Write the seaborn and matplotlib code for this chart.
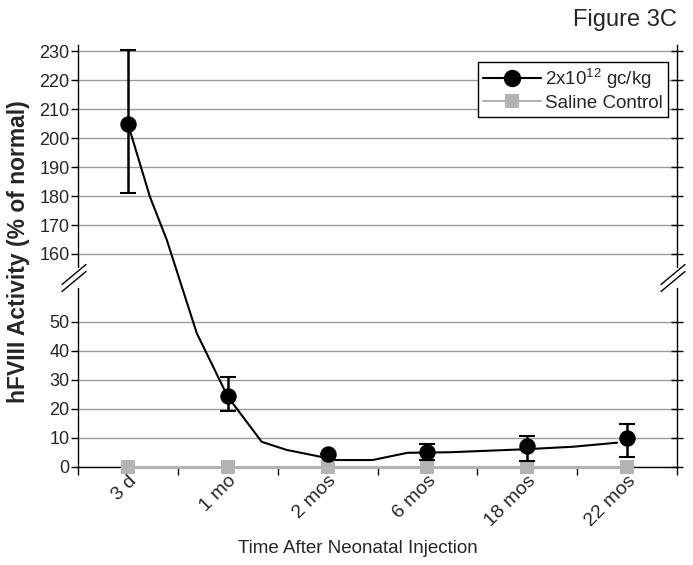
import numpy as np
import matplotlib
matplotlib.use("Agg")
import matplotlib.pyplot as plt
from matplotlib.lines import Line2D
import seaborn as sns
import pandas as pd

# ---------------- data ----------------
categories = ["3 d", "1 mo", "2 mos", "6 mos", "18 mos", "22 mos"]
treated_mean = [205, 24.4, 4.3, 5.0, 7.3, 10.0]
treated_low = [181, 19.2, 4.3, 2.2, 2.0, 3.3]
treated_high = [230.5, 31, 4.3, 7.7, 10.5, 14.6]
saline_mean = [0, 0, 0, 0, 0, 0]
# smoothed trend line (category units, % of normal)
curve_x = [0.0, 0.22, 0.39, 0.69, 1.0, 1.34, 1.59, 1.85, 2.09, 2.45, 2.80, 3.23, 3.96, 4.46, 4.90]
curve_y = [205, 179.8, 164.8, 46.1, 24.2, 8.6, 5.8, 4.0, 2.3, 2.3, 4.8, 5.0, 6.0, 6.9, 8.3]
lower_ticks = [0, 10, 20, 30, 40, 50]
upper_ticks = [160, 170, 180, 190, 200, 210, 220, 230]
legend_labels = ["2x10$^{12}$ gc/kg", "Saline Control"]

# ---------------- broken-axis scale ----------------
LO, HI, OFF = 55.0, 150.0, 86.5
K = ((HI - OFF) - LO) / (HI - LO)


def fwd(v):
    v = np.asarray(v, dtype=float)
    return np.where(v <= LO, v, np.where(v >= HI, v - OFF, LO + (v - LO) * K))


def inv(t):
    t = np.asarray(t, dtype=float)
    return np.where(t <= LO, t, np.where(t >= HI - OFF, t + OFF, LO + (t - LO) / K))


sns.set_theme(style="white")
plt.rcParams['font.family'] = ['Liberation Sans', 'DejaVu Sans']
plt.rcParams['mathtext.fontset'] = 'custom'
plt.rcParams['mathtext.rm'] = 'Liberation Sans'
plt.rcParams['mathtext.it'] = 'Liberation Sans:italic'
plt.rcParams['mathtext.bf'] = 'Liberation Sans:bold'

W, H = 693, 565
fig = plt.figure(figsize=(W / 100, H / 100), dpi=100)
fig.patch.set_facecolor('white')
L_px, R_px, T_px, B_px = 78, 677, 45, 466.7
ax = fig.add_axes([L_px / W, 1 - B_px / H, (R_px - L_px) / W, (B_px - T_px) / H])
ax.set_facecolor('white')

x_idx = list(range(len(categories)))
df_t = pd.DataFrame({"x": x_idx, "y": treated_mean})
df_s = pd.DataFrame({"x": x_idx, "y": saline_mean})
df_c = pd.DataFrame({"x": curve_x, "y": curve_y})

# saline control
sns.lineplot(data=df_s, x="x", y="y", ax=ax, color="#b3b3b3", lw=2.2, marker="s",
             markersize=10.5, markeredgewidth=0, clip_on=False, zorder=3, legend=False)
# trend line
sns.lineplot(data=df_c, x="x", y="y", ax=ax, color="black", lw=1.5, sort=False,
             estimator=None, zorder=4, legend=False)
# error bars
ax.errorbar(x_idx, treated_mean,
            yerr=[np.subtract(treated_mean, treated_low), np.subtract(treated_high, treated_mean)],
            fmt='none', ecolor='black', elinewidth=1.8, capsize=5.5, capthick=1.5, zorder=5)
# markers
sns.scatterplot(data=df_t, x="x", y="y", ax=ax, color="black", s=140, marker="o",
                edgecolor="black", linewidth=0, zorder=6, legend=False)

ax.set_yscale('function', functions=(fwd, inv))
ax.set_ylim(0, float(inv(145.7)))
ax.set_xlim(-0.5, 5.5)

ax.set_yticks(lower_ticks + upper_ticks)
ax.set_yticklabels([str(v) for v in lower_ticks + upper_ticks], fontsize=13)
ax.yaxis.grid(True, color="#9a9a9a", lw=1)
ax.xaxis.grid(False)
ax.set_axisbelow(True)
ax.tick_params(axis='y', which='major', direction='out', length=5, width=1, color='black',
               pad=1, left=True, right=False)

ax.set_xticks(x_idx)
ax.set_xticklabels(categories, fontsize=14, rotation=45, ha='right', va='top',
                   rotation_mode='anchor')
ax.set_xticks(np.arange(-0.5, 5.6, 1.0), minor=True)
ax.tick_params(axis='x', which='major', length=0, pad=4)
ax.tick_params(axis='x', which='minor', direction='out', length=6, width=1, color='black',
               bottom=True)

for s in ['left', 'bottom', 'right']:
    ax.spines[s].set_visible(True)
    ax.spines[s].set_color('black')
    ax.spines[s].set_linewidth(1)
ax.spines['top'].set_visible(False)

# right-side crossing ticks through a twin axis
ax2 = ax.twinx()
ax2.set_yscale('function', functions=(fwd, inv))
ax2.set_ylim(ax.get_ylim())
ax2.set_yticks(lower_ticks + upper_ticks)
ax2.tick_params(axis='y', direction='inout', length=8, width=1, color='black',
                labelright=False, right=True)
for s in ['left', 'bottom', 'top', 'right']:
    ax2.spines[s].set_visible(False)
ax2.grid(False)

ax.set_ylabel("hFVIII Activity (% of normal)", fontsize=16.5, fontweight='bold', va='center')
ax.yaxis.set_label_coords(-0.1, 0.509)
ax.set_xlabel("Time After Neonatal Injection", fontsize=13.5, va='center')
ax.xaxis.set_label_coords(0.467, -0.193)

# axis breaks
aw, ah = R_px - L_px, B_px - T_px
yb = (B_px - 278) / ah
for xa, xc in ((0.0, -4.0), (1.0, -4.0)):
    ax.plot([xa, xa], [yb - 10 / ah, yb + 10 / ah], transform=ax.transAxes, color='white',
            lw=4, clip_on=False, zorder=20, solid_capstyle='butt')
    for off in (-3.5, 3.5):
        ax.plot([xa + (xc - 12) / aw, xa + (xc + 12) / aw],
                [yb + (off - 10) / ah, yb + (off + 10) / ah],
                transform=ax.transAxes, color='black', lw=1, clip_on=False, zorder=21)

# legend
handles = [Line2D([0], [0], color='black', lw=1.5, marker='o', markersize=11.5,
                  markerfacecolor='black', markeredgecolor='black'),
           Line2D([0], [0], color='#b3b3b3', lw=1.5, marker='s', markersize=10.5,
                  markerfacecolor='#b3b3b3', markeredgewidth=0)]
leg = ax2.legend(handles, legend_labels, loc='upper right',
                 bbox_to_anchor=(668 / W, 1 - 61.7 / H), bbox_transform=fig.transFigure,
                 borderaxespad=0, fontsize=13.5, frameon=True, fancybox=False, framealpha=1,
                 edgecolor='black', handlelength=3.1, handletextpad=0.2, borderpad=0.28,
                 labelspacing=0.2)
leg.get_frame().set_linewidth(1)

fig.text(677 / W, 1 - 20 / H, "Figure 3C", ha='right', va='center', fontsize=17)

fig.savefig("out.png", dpi=100, facecolor='white')
